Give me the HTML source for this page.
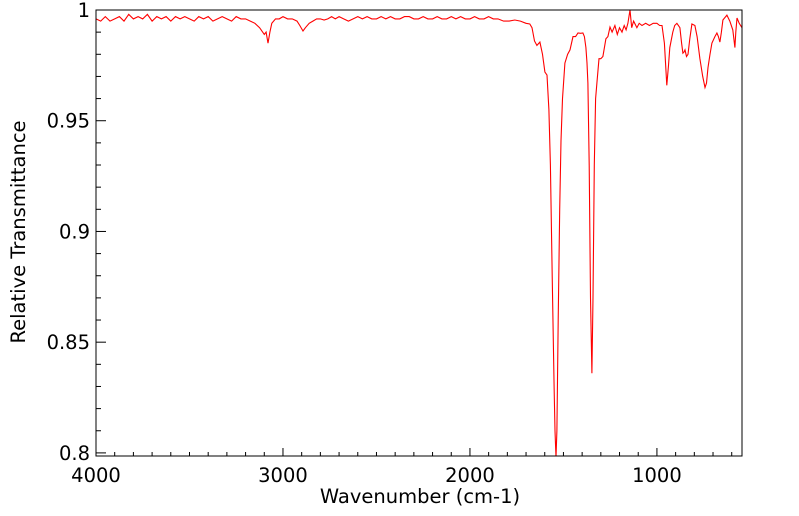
<!DOCTYPE html>
<html><head><meta charset="utf-8"><style>
body{margin:0;background:#fff;}
svg{display:block;font-family:"DejaVu Sans","Liberation Sans",sans-serif;}
</style></head><body>
<svg id="chart" width="799" height="516"></svg>
<script>
const wavenumbers=[4000,3975,3950,3925,3900,3875,3850,3825,3800,3775,3750,3725,3700,3675,3650,3625,3600,3575,3550,3525,3500,3475,3450,3425,3400,3375,3350,3325,3300,3275,3250,3225,3200,3175,3150,3125,3100,3090,3080,3070,3060,3040,3020,3000,2975,2950,2925,2910,2893,2880,2860,2840,2820,2800,2780,2760,2740,2720,2700,2675,2650,2625,2600,2575,2550,2525,2500,2475,2450,2425,2400,2375,2350,2325,2300,2275,2250,2225,2200,2175,2150,2125,2100,2075,2050,2025,2000,1975,1950,1925,1900,1875,1850,1820,1790,1760,1730,1700,1680,1668,1655,1642,1626,1612,1599,1588,1578,1570,1560,1550,1545,1540,1535,1528,1520,1513,1505,1492,1478,1465,1449,1435,1422,1408,1396,1388,1380,1374,1369,1362,1355,1348,1342,1335,1328,1321,1310,1300,1289,1273,1262,1251,1240,1225,1212,1200,1187,1175,1165,1155,1144,1135,1125,1107,1095,1080,1060,1040,1020,1000,985,973,960,947,938,931,915,905,893,877,868,861,855,850,842,834,824,813,797,785,770,755,743,735,727,716,706,690,679,671,663,655,647,626,610,594,583,578,572,560,545];
const transmittance=[0.996,0.995,0.997,0.995,0.996,0.997,0.995,0.998,0.996,0.997,0.996,0.998,0.995,0.997,0.996,0.997,0.995,0.997,0.996,0.997,0.996,0.995,0.997,0.996,0.997,0.995,0.996,0.997,0.996,0.995,0.997,0.996,0.996,0.995,0.994,0.992,0.989,0.990,0.985,0.990,0.994,0.996,0.996,0.997,0.996,0.996,0.995,0.993,0.9905,0.992,0.994,0.995,0.996,0.996,0.9955,0.996,0.997,0.996,0.997,0.996,0.995,0.996,0.997,0.996,0.997,0.996,0.996,0.997,0.996,0.997,0.996,0.996,0.997,0.997,0.996,0.996,0.997,0.996,0.996,0.997,0.996,0.996,0.997,0.996,0.997,0.996,0.996,0.997,0.996,0.996,0.997,0.996,0.996,0.995,0.995,0.9955,0.995,0.994,0.9937,0.992,0.986,0.984,0.9855,0.980,0.972,0.9706,0.955,0.930,0.880,0.830,0.810,0.798,0.810,0.860,0.910,0.941,0.960,0.976,0.980,0.982,0.988,0.988,0.9896,0.9895,0.9896,0.988,0.983,0.976,0.967,0.930,0.870,0.836,0.870,0.930,0.960,0.967,0.978,0.978,0.979,0.987,0.988,0.9923,0.990,0.993,0.989,0.992,0.990,0.993,0.991,0.994,1.000,0.992,0.995,0.992,0.994,0.993,0.994,0.993,0.994,0.994,0.993,0.993,0.985,0.966,0.975,0.983,0.990,0.993,0.994,0.992,0.985,0.9805,0.981,0.982,0.979,0.980,0.987,0.9937,0.993,0.988,0.978,0.970,0.965,0.967,0.974,0.980,0.985,0.988,0.9896,0.988,0.9855,0.990,0.9955,0.9977,0.995,0.991,0.983,0.990,0.9964,0.994,0.992];
const yTicks=[0.8,0.85,0.9,0.95,1];
const yTickLabels=["0.8","0.85","0.9","0.95","1"];
const xTicks=[4000,3000,2000,1000];
const xTickLabels=["4000","3000","2000","1000"];

const L=96,R=742,T=10,B=456;
const X0=4000,X1=545,Y0=0.7986,Y1=1.0;
const xs=v=>L+(X0-v)/(X0-X1)*(R-L);
const ys=v=>B-(v-Y0)/(Y1-Y0)*(B-T);
const svg=document.getElementById('chart');
const NS='http://www.w3.org/2000/svg';
function mk(tag,attrs,parent){const e=document.createElementNS(NS,tag);for(const k in attrs)e.setAttribute(k,attrs[k]);(parent||svg).appendChild(e);return e;}

const clip=mk('clipPath',{id:'pc'});mk('rect',{x:L,y:T,width:R-L,height:B-T},clip);
const line=mk('polyline',{points:wavenumbers.map((w,i)=>xs(w).toFixed(1)+','+ys(transmittance[i]).toFixed(1)).join(' '),fill:'none',stroke:'#ff0000','stroke-width':1.1,'clip-path':'url(#pc)'});



const frame=mk('rect',{x:L,y:T,width:R-L,height:B-T,fill:'none',stroke:'#000','stroke-width':1});



for(let v=0.80;v<=1.0001;v+=0.01){const y=ys(v);const major=Math.abs(v*20-Math.round(v*20))<1e-6;
const t=mk('line',{x1:L,x2:L+(major?10:5),y1:y,y2:y,stroke:'#000'});

}
yTicks.forEach((v,i)=>{const t=mk('text',{x:L-6,y:ys(v)+7,'text-anchor':'end','font-size':19.5});t.textContent=yTickLabels[i];

});
for(let w=4000;w>=600;w-=100){const x=xs(w);const major=w%1000===0;
const t=mk('line',{x1:x,x2:x,y1:B,y2:B-(major?8:4),stroke:'#000'});

}
xTicks.forEach((v,i)=>{const t=mk('text',{x:xs(v),y:B+26,'text-anchor':'middle','font-size':19.5});t.textContent=xTickLabels[i];

});
const xt=mk('text',{x:420,y:503,'text-anchor':'middle','font-size':19.5});xt.textContent='Wavenumber (cm-1)';


const yt=mk('text',{x:0,y:0,'text-anchor':'middle','font-size':19.5,transform:'translate(25,232) rotate(-90)'});yt.textContent='Relative Transmittance';


</script>
</body></html>
